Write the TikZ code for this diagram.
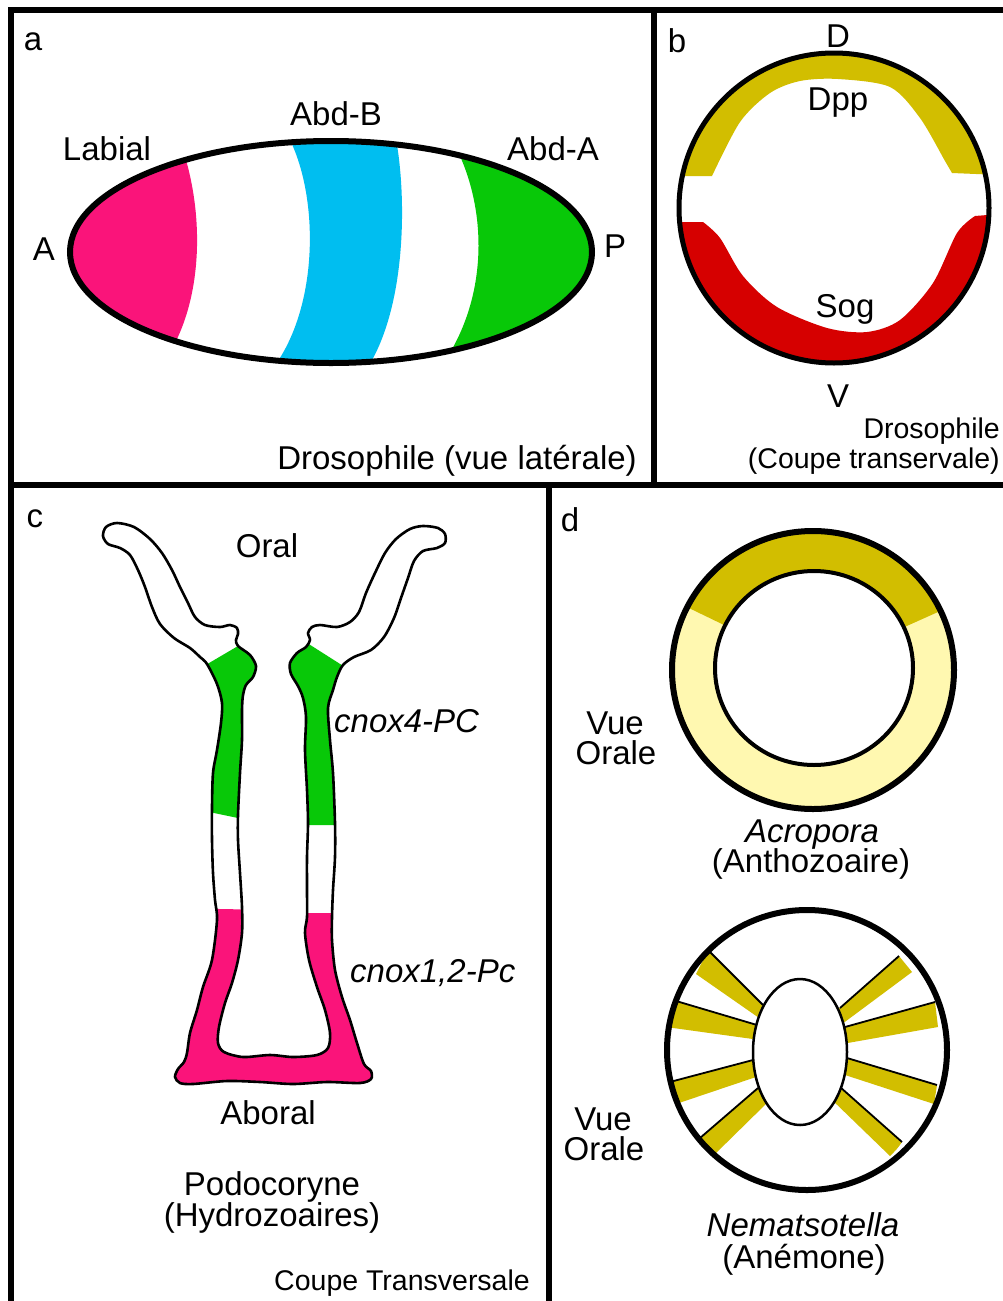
\documentclass[tikz,border=0pt]{standalone}
\usepackage{fontspec}
\setmainfont{Liberation Sans}
\definecolor{pinkc}{RGB}{250,20,122}
\definecolor{bluec}{RGB}{0,190,240}
\definecolor{greenc}{RGB}{8,200,8}
\definecolor{redc}{RGB}{214,0,0}
\definecolor{darkyel}{RGB}{210,190,0}
\definecolor{paleyel}{RGB}{255,248,176}
\newcommand\podoshape{plot[smooth cycle, tension=0.5] coordinates {
 (103,536) (106,527) (117,523) (134,527) (150,539) (162,553) (172,570) (180,587)
 (188,603) (195,617) (205,625) (220,627) (230,625) (237,628) (238,634) (236,640) (238,646)
 (250,655) (256,666) (253,677) (246,685) (243,695) (242,710) (242,740) (240,773)
 (238,815) (238,840) (240,873) (242,907) (242,933) (238,960) (232,983) (225,1003)
 (219,1027) (218,1043) (224,1052) (243,1057) (270,1055) (293,1057) (317,1055)
 (328,1048) (330,1033) (325,1010) (317,987) (309,960) (305,933) (307,917) (307,890)
 (307,857) (308,823) (307,790) (305,750) (306,717) (303,698) (298,686) (291,674)
 (290,663) (297,653) (306,647) (310,640) (308,633) (312,627)
 (320,625) (337,627) (350,622) (359,612) (366,593) (375,573) (385,553) (396,539)
 (410,529) (423,526) (438,528) (445,534) (445,543)
 (437,548) (423,551) (414,561) (408,578) (401,598) (394,618) (384,637) (371,650)
 (354,657) (343,665) (337,677) (333,690) (328,708) (330,740) (333,773) (335,823)
 (335,857) (333,890) (332,917) (332,940) (335,970) (342,997) (350,1020) (357,1043)
 (364,1064) (371,1071) (371,1079) (360,1083) (327,1082) (293,1084) (260,1082)
 (227,1081) (193,1084) (180,1083) (175,1077) (178,1069) (184,1062) (187,1053)
 (190,1033) (197,1010) (203,987) (212,960) (217,920) (215,900) (213,873) (212,840)
 (212,807) (213,773) (217,750) (221,723) (222,703) (217,684) (207,664) (200,657)
 (190,648) (174,638) (160,624) (152,607) (145,587) (138,570) (130,555) (120,548)
 (108,544)}}
\begin{document}
\begin{tikzpicture}[x=1pt,y=-1pt,
  lbl/.style={inner sep=0pt, anchor=base, font=\fontsize{33}{33}\selectfont},
  lblsm/.style={inner sep=0pt, anchor=base, font=\fontsize{28.5}{28.5}\selectfont},
  lblit/.style={lbl, font=\fontsize{33}{33}\selectfont\itshape},
  frame/.style={line width=6pt, line cap=rect},
  spoke/.style={line width=1.8pt},
  yband/.style={fill=darkyel}]

\useasboundingbox (0,0) rectangle (1002,1301);
\fill[white] (0,0) rectangle (1002,1301);

% ---------- panel frames ----------
\draw[frame] (11,1301) -- (11,10) -- (1002,10);
\draw[frame] (654,10) -- (654,485);
\draw[frame] (11,485) -- (1002,485);
\draw[frame] (549,485) -- (549,1301);

% ---------- a : lateral view of the embryo ----------
\begin{scope}
  \clip (331,252) ellipse [x radius=261, y radius=111];
  \fill[pinkc] (60,130) -- (186,130) -- (186,160) .. controls (203,220) and (201,290) .. (176,341)
     -- (176,380) -- (60,380) -- cycle;
  \fill[bluec] (291,130) -- (291,142) .. controls (318,200) and (318,300) .. (278,361)
     -- (278,380) -- (371,380) -- (371,362) .. controls (406,300) and (406,200) .. (397,145)
     -- (397,130) -- cycle;
  \fill[greenc] (460,130) -- (460,156) .. controls (486,215) and (486,290) .. (451,351)
     -- (451,380) -- (600,380) -- (600,130) -- cycle;
\end{scope}
\draw[line width=6pt] (331,252) ellipse [x radius=261, y radius=111];

\node[lbl] (la) at (33,50) {a};
\node[lbl] (labial) at (107,160) {Labial};
\node[lbl] (abdb) at (336,125) {Abd-B};
\node[lbl] (abda) at (553,160) {Abd-A};
\node[lbl] (ant) at (44,260) {A};
\node[lbl] (post) at (615,257) {P};
\node[lbl, anchor=base east] (dlat) at (637,469) {Drosophile (vue latérale)};

% ---------- b : transverse section ----------
\begin{scope}
  \clip (834,208) circle [radius=155];
  \fill[darkyel] (670,30) -- (670,176) -- plot[smooth] coordinates {(712,176) (740,122) (770,93)
     (800,81) (838,79) (890,87) (920,118) (945,161) (952,173)} -- (1000,175) -- (1000,30) -- cycle;
  \fill[redc] (670,400) -- (670,222) -- plot[smooth] coordinates {(703,222) (720,238) (743,276)
     (777,307) (827,328) (867,332) (900,320) (933,283) (957,233) (975,216)} -- (1000,214)
     -- (1000,400) -- cycle;
\end{scope}
\draw[line width=5pt] (834,208) circle [radius=155];

\node[lbl] (lb) at (677,52) {b};
\node[lbl] (dors) at (838,47) {D};
\node[lbl] (dpp) at (838,110) {Dpp};
\node[lbl] (sog) at (845,317) {Sog};
\node[lbl] (vent) at (838,407) {V};
\node[lblsm, anchor=base east] (dros2) at (1000,438) {Drosophile};
\node[lblsm, anchor=base east] (coupe) at (1000,468) {(Coupe transervale)};

% ---------- c : Podocoryne ----------
\begin{scope}
  \clip \podoshape;
  \fill[greenc] (170,686) -- (272,626) -- (272,818) -- (238,818) -- (214,813) -- (170,813) -- cycle;
  \fill[greenc] (282,627) -- (370,683) -- (370,825) -- (282,825) -- cycle;
  \fill[pinkc] (165,908) -- (275,910) -- (275,913) -- (385,913) -- (385,1100) -- (165,1100) -- cycle;
\end{scope}
\draw[line width=2.6pt, line join=round] \podoshape;

\node[lbl] (lc) at (35,527) {c};
\node[lbl] (oral) at (267,557) {Oral};
\node[lblit, anchor=base west] (cnoxa) at (334,732) {cnox4-PC};
\node[lblit, anchor=base west] (cnoxb) at (350,982) {cnox1,2-Pc};
\node[lbl] (aboral) at (268,1124) {Aboral};
\node[lbl] (podo) at (272,1195) {Podocoryne};
\node[lbl] (hydro) at (272,1226) {(Hydrozoaires)};
\node[lblsm, anchor=base east] (ctrans) at (530,1290) {Coupe Transversale};

% ---------- d : oral views ----------
% Acropora ring
\fill[paleyel] (813,670) ellipse [x radius=141, y radius=139];
\begin{scope}
  \clip (813,670) ellipse [x radius=141, y radius=139];
  \fill[darkyel] (813,668) -- (573,552) -- (573,450) -- (1063,450) -- (1063,556) -- cycle;
\end{scope}
\filldraw[fill=white, line width=4pt] (814,668) ellipse [x radius=99, y radius=97];
\draw[line width=6pt] (813,670) ellipse [x radius=141, y radius=139];

% Nematostella disc with mesentery bands
\begin{scope}
  \clip (807,1050) circle [radius=140];
  \fill[yband] (768,1010) -- (709,951) .. controls (703,960) .. (696,974) -- (762,1020) -- cycle;
  \fill[yband] (762,1026) -- (666,998) .. controls (666,1012) .. (666,1027) -- (760,1040) -- cycle;
  \fill[yband] (758,1059) -- (666,1083) .. controls (667,1094) .. (670,1106) -- (759,1076) -- cycle;
  \fill[yband] (763,1084) -- (700,1138) .. controls (706,1146) .. (713,1156) -- (770,1100) -- cycle;
  \fill[yband] (835,1012) -- (899,956) .. controls (905,964) .. (912,972) -- (838,1027) -- cycle;
  \fill[yband] (840,1028) -- (935,1002) .. controls (937,1014) .. (938,1027) -- (842,1044) -- cycle;
  \fill[yband] (842,1057) -- (937,1085) .. controls (936,1094) .. (934,1104) -- (842,1074) -- cycle;
  \fill[yband] (836,1083) -- (902,1142) .. controls (897,1149) .. (890,1156) -- (829,1097) -- cycle;
  \draw[spoke] (763,1005) -- (709,951);
  \draw[spoke] (757,1025) -- (666,998);
  \draw[spoke] (753,1060) -- (666,1083);
  \draw[spoke] (758,1088) -- (700,1138);
  \draw[spoke] (840,1008) -- (899,956);
  \draw[spoke] (845,1027) -- (935,1002);
  \draw[spoke] (847,1058) -- (937,1085);
  \draw[spoke] (840,1087) -- (902,1142);
\end{scope}
\filldraw[fill=white, line width=2.5pt] (800,1052) ellipse [x radius=47, y radius=73];
\draw[line width=6pt] (807,1050) circle [radius=140];

\node[lbl] (ld) at (570,531) {d};
\node[lbl] (vue1) at (615,734) {Vue};
\node[lbl] (orale1) at (616,764) {Orale};
\node[lblit] (acro) at (812,842) {Acropora};
\node[lbl] (antho) at (811,872) {(Anthozoaire)};
\node[lbl] (vue2) at (603,1130) {Vue};
\node[lbl] (orale2) at (604,1160) {Orale};
\node[lblit] (nema) at (803,1236) {Nematsotella};
\node[lbl] (anem) at (804,1268) {(Anémone)};
\end{tikzpicture}
\end{document}
